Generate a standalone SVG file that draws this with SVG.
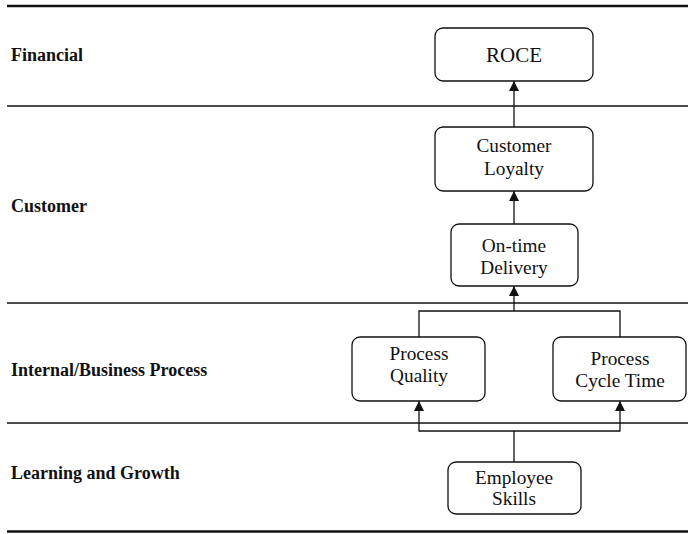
<svg xmlns="http://www.w3.org/2000/svg" width="688" height="534" viewBox="0 0 688 534">
<style>
.lane{font-family:"Liberation Serif","Times New Roman",serif;font-weight:bold;font-size:18px;fill:#111}
.box{fill:#fff;stroke:#111;stroke-width:1.3}
.t{font-family:"Liberation Serif","Times New Roman",serif;font-size:19.3px;fill:#111;text-anchor:middle}
.sep{stroke:#111;stroke-width:1.3}
.thick{stroke:#111;stroke-width:2.6}
.c{fill:none;stroke:#111;stroke-width:1.3}
</style>
<defs>
<marker id="ah" viewBox="0 0 10 10" refX="10" refY="5" markerWidth="10" markerHeight="10" markerUnits="userSpaceOnUse" orient="auto">
<path d="M0,0 L10,5 L0,10 Z" fill="#111"/>
</marker>
</defs>
<rect width="688" height="534" fill="#fff"/>
<g id="lanes">
<line class="thick" x1="7" y1="6" x2="688" y2="6"/>
<line class="sep" x1="7" y1="106" x2="688" y2="106"/>
<line class="sep" x1="7" y1="303" x2="688" y2="303"/>
<line class="sep" x1="7" y1="423" x2="688" y2="423"/>
<line class="thick" x1="7" y1="531.5" x2="688" y2="531.5"/>
<text class="lane" x="11" y="61">Financial</text>
<text class="lane" x="11" y="212">Customer</text>
<text class="lane" x="11" y="376">Internal/Business Process</text>
<text class="lane" x="11" y="479">Learning and Growth</text>
</g>
<g id="connectors">
<line class="c" x1="514" y1="127" x2="514" y2="81" marker-end="url(#ah)"/>
<line class="c" x1="514" y1="224" x2="514" y2="191" marker-end="url(#ah)"/>
<polyline class="c" points="419,337 419,311 620,311 620,337"/>
<line class="c" x1="514" y1="311" x2="514" y2="286" marker-end="url(#ah)"/>
<line class="c" x1="514" y1="462" x2="514" y2="431"/>
<line class="c" x1="419" y1="431" x2="620" y2="431"/>
<line class="c" x1="419" y1="431.6" x2="419" y2="401" marker-end="url(#ah)"/>
<line class="c" x1="620" y1="431.6" x2="620" y2="401" marker-end="url(#ah)"/>
</g>
<g id="roce">
<rect class="box" x="435" y="28" width="158" height="53" rx="8"/>
<text class="t" x="514" y="62" style="font-size:21px">ROCE</text>
</g>
<g id="customer-loyalty">
<rect class="box" x="435" y="127" width="158" height="64" rx="8"/>
<text class="t" x="514" y="152">Customer</text>
<text class="t" x="514" y="175">Loyalty</text>
</g>
<g id="on-time-delivery">
<rect class="box" x="451" y="224" width="127" height="62" rx="8"/>
<text class="t" x="514" y="252">On-time</text>
<text class="t" x="514" y="274">Delivery</text>
</g>
<g id="process-quality">
<rect class="box" x="352" y="337" width="133" height="64" rx="8"/>
<text class="t" x="419" y="360">Process</text>
<text class="t" x="419" y="382">Quality</text>
</g>
<g id="process-cycle-time">
<rect class="box" x="553" y="337" width="133" height="64" rx="8"/>
<text class="t" x="620" y="365">Process</text>
<text class="t" x="620" y="387">Cycle Time</text>
</g>
<g id="employee-skills">
<rect class="box" x="448" y="462" width="133" height="52" rx="8"/>
<text class="t" x="514" y="484">Employee</text>
<text class="t" x="514" y="505">Skills</text>
</g>
</svg>
